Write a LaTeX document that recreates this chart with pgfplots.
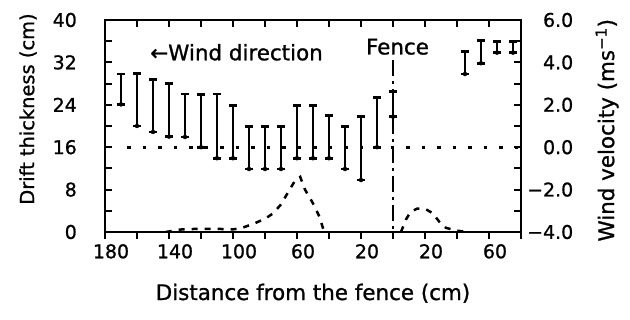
\documentclass[border=0pt]{standalone}
\usepackage{fontspec}
\setmainfont{DejaVu Sans}[FakeBold=1]
\usepackage{pgfplots}
\usepackage{pgfplotstable}
\pgfplotsset{compat=1.18}
\newcommand\lab{\fontsize{21.5}{24}\selectfont}
\newcommand\laby{\fontsize{19.5}{22}\selectfont}
\newcommand\tck{\fontsize{19}{22}\selectfont}

% wind velocity ranges: x, lower end, range, zero
\pgfplotstableread{
x lo d z
-170 2.02 1.43 0
-160 1.00 2.48 0
-150 0.72 2.48 0
-140 0.50 2.50 0
-130 0.48 2.03 0
-120 0.00 2.50 0
-110 -0.52 3.03 0
-100 -0.52 2.50 0
-90 -1.03 2.00 0
-80 -1.03 2.00 0
-70 -1.03 2.00 0
-60 -0.52 2.50 0
-50 -0.52 2.50 0
-40 -0.52 2.00 0
-30 -1.03 2.00 0
-20 -1.55 3.00 0
-10 0.00 2.34 0
0 1.44 1.18 0
45 3.45 1.05 0
55 3.96 1.06 0
65 4.46 0.52 0
75 4.46 0.52 0
}\wind

\pgfplotstableread{
x y
-142 0
-132 0.5
-121 0.6
-111 0.6
-100 0.5
-95 0.7
-86 1.7
-80 2.5
-75 3.5
-70 5.2
-65 7.8
-61 9.8
-58 10.4
-55 8.0
-50 5.4
-46 2.9
-43 0
}\driftW

\pgfplotstableread{
x y
5 0
8 2.3
11 3.8
15 4.4
20 4.4
25 3.5
29 1.9
33 0.8
39 0.3
46 0
}\driftL

\begin{document}
\begin{tikzpicture}
\useasboundingbox (-105bp,-88bp) rectangle (525bp,232bp);
\pgfplotsset{every axis/.append style={
  scale only axis, width=416bp, height=212bp,
  at={(0,0)}, anchor=south west,
  xmin=-180, xmax=80,
  axis line style={line width=2bp, black},
  major tick length=7bp, minor tick length=7bp,
  tick style={line width=2bp, black},
  /pgf/number format/assume math mode=true,
  ticklabel style={font=\tck},
  label style={font=\lab},
}}
% main frame, left axis (drift thickness)
\begin{axis}[
  ymin=0, ymax=40,
  tick align=inside,
  xtick pos=top,
  xtick={-180,-160,...,80},
  xticklabels={},
  ytick={0,8,...,40},
  minor ytick={4,12,20,28,36},
  ytick pos=left,
  yticklabel style={anchor=east, inner sep=0pt, xshift=-28bp},
  ylabel={Drift thickness (cm)},
  ylabel style={font=\laby, at={(axis description cs:-0.185,0.58)}, anchor=center},
]
\addplot[black, line width=2.5bp, dash pattern=on 6bp off 7bp] table[x=x, y=y] {\driftW};
\addplot[black, line width=2.5bp, dash pattern=on 6bp off 7bp] table[x=x, y=y] {\driftL};
\addplot[black, line width=3bp, dash pattern=on 3.5bp off 12bp] coordinates {(-166,16) (78,16)};
\addplot[black, line width=2.2bp, dash pattern=on 16bp off 5bp on 3bp off 5bp] coordinates {(0,32.5) (0,0)};
\node[font=\lab, anchor=base, inner sep=0pt] at (axis cs:2.8,33.5) {Fence};
\node[font=\lab, anchor=base, inner sep=0pt] at (axis cs:-97.8,32.4) {←Wind direction};
\end{axis}
% bottom axis with outward ticks, wind data
\begin{axis}[
  ymin=-4, ymax=6,
  axis x line*=bottom, axis y line=none,
  tick align=outside,
  xtick={-180,-160,...,80},
  xticklabels={180,,140,,100,,60,,20,,20,,60,},
  xticklabel style={anchor=north, inner sep=0pt, yshift=-5bp, xshift=6bp},
  xlabel={Distance from the fence (cm)},
  xlabel style={at={(axis description cs:0.5,0)}, anchor=base, yshift=-68bp},
]
\addplot[only marks, mark=none,
  error bars/.cd, y dir=both, y explicit,
  error bar style={draw=black, line width=2bp},
  error mark options={rotate=90, draw=black, mark size=4bp, line width=2.8bp}]
  table[x=x, y=lo, y error plus=d, y error minus=z] {\wind};
\end{axis}
% right axis (wind velocity)
\begin{axis}[
  ymin=-4, ymax=6,
  axis y line*=right, axis x line=none,
  tick align=inside,
  ytick={-4,-2,...,6},
  minor ytick={-3,-1,1,3,5},
  yticklabels={−4.0,−2.0,0.0,2.0,4.0,6.0},
  yticklabel style={anchor=west, inner sep=0pt, text width=48bp, align=right, xshift=4bp},
  ylabel={Wind velocity (ms\textsuperscript{−1})},
  ylabel style={at={(axis description cs:1.207,0.48)}, anchor=center},
]
\end{axis}
\end{tikzpicture}
\end{document}
